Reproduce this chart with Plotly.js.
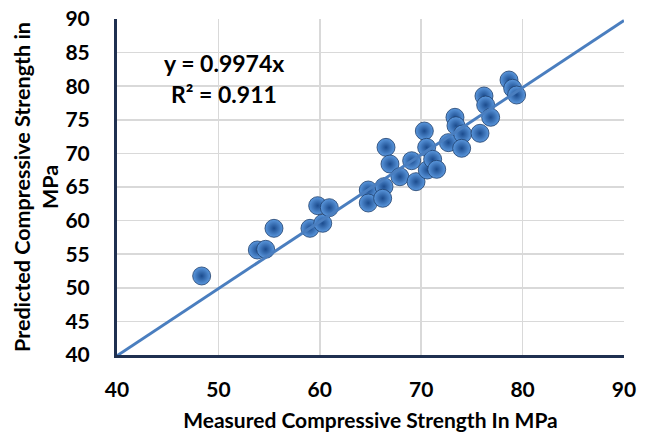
<!DOCTYPE html>
<html>
<head>
<meta charset="utf-8">
<script src="https://cdn.plot.ly/plotly-3.0.1.min.js"></script>
<style>html,body{margin:0;padding:0;background:#fff;}#chart{width:648px;height:438px;}</style>
</head>
<body>
<div id="chart"></div>
<script>
// Measured vs predicted compressive strength (MPa)
const measured = [48.35, 53.84, 54.66, 55.48, 59.03, 59.79, 60.29, 60.94, 64.78, 64.78,
  66.33, 66.2, 66.53, 66.92, 67.9, 69.06, 69.49, 70.31, 70.54, 70.6,
  71.13, 71.53, 72.68, 73.33, 73.43, 74.09, 73.99, 75.8, 76.19, 76.36,
  76.85, 78.66, 79.02, 79.41];
const predicted = [51.76, 55.63, 55.73, 58.85, 58.85, 62.22, 59.6, 61.92, 64.55, 62.62,
  65.05, 63.32, 70.9, 68.42, 66.53, 68.91, 65.79, 73.33, 70.9, 67.53,
  69.12, 67.63, 71.6, 75.37, 74.12, 72.89, 70.76, 72.99, 78.54, 77.2,
  75.37, 80.92, 79.69, 78.69];
const slope = 0.9974;
const r2 = 0.911;
const trendX = [40, 90];
const trendY = trendX.map(v => v * slope);
const xTicks = [40, 50, 60, 70, 80, 90];
const yTicks = [40, 45, 50, 55, 60, 65, 70, 75, 80, 85, 90];

const fontFam = 'Lato, "Open Sans", sans-serif';

const traces = [
  {
    x: measured, y: predicted, type: 'scatter', mode: 'markers',
    marker: {
      size: 18,
      color: '#5b98de',
      gradient: {type: 'radial', color: '#1c4c8e'},
      line: {color: '#1e3f6c', width: 0.8}
    },
    hoverinfo: 'x+y', showlegend: false
  },
  {
    x: trendX, y: trendY, type: 'scatter', mode: 'lines',
    line: {color: '#4a7ebf', width: 3},
    hoverinfo: 'skip', showlegend: false
  }
];

const layout = {
  width: 648, height: 438,
  margin: {l: 117, r: 24, t: 19, b: 83},
  paper_bgcolor: '#ffffff', plot_bgcolor: '#ffffff',
  font: {family: fontFam, color: '#000000', size: 21},
  xaxis: {
    range: [40, 90], tickvals: xTicks, ticktext: xTicks.map(String),
    showgrid: true, gridcolor: '#d9d9d9', gridwidth: 1.5,
    zeroline: false, showline: true, linecolor: '#1f3050', linewidth: 3,
    ticks: '', ticklabelstandoff: 14,
    tickfont: {family: fontFam, size: 21, color: '#000', weight: 'bold'},
    title: {text: 'Measured Compressive Strength In MPa', font: {family: fontFam, size: 21, color: '#000', weight: 'bold'}, standoff: 14},
    automargin: false
  },
  yaxis: {
    range: [40, 90], tickvals: yTicks, ticktext: yTicks.map(String),
    showgrid: true, gridcolor: '#d9d9d9', gridwidth: 1.5,
    zeroline: false, showline: true, linecolor: '#1f3050', linewidth: 3,
    ticks: '', ticklabelstandoff: 20,
    tickfont: {family: fontFam, size: 21, color: '#000', weight: 'bold'},
    title: {text: 'Predicted Compressive Strength in<br>MPa', font: {family: fontFam, size: 21.5, color: '#000', weight: 'bold'}, standoff: 1},
    automargin: false
  },
  annotations: [
    {xref: 'paper', yref: 'paper', x: (224 - 117) / 507, y: 1 - (63 - 19) / 336,
     text: 'y = ' + slope + 'x', showarrow: false, xanchor: 'center', yanchor: 'middle',
     font: {family: fontFam, size: 23, color: '#000', weight: 'bold'}},
    {xref: 'paper', yref: 'paper', x: (224 - 117) / 507, y: 1 - (94 - 19) / 336,
     text: 'R² = ' + r2, showarrow: false, xanchor: 'center', yanchor: 'middle',
     font: {family: fontFam, size: 23, color: '#000', weight: 'bold'}}
  ]
};

Plotly.newPlot('chart', traces, layout, {displayModeBar: false, staticPlot: true});
</script>
</body>
</html>
